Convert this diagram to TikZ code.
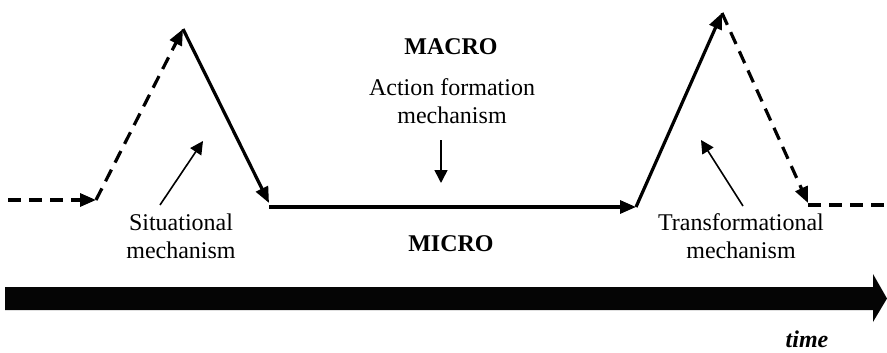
\documentclass[tikz,border=0pt]{standalone}
\usepackage{fontspec}
\setmainfont{Liberation Serif}
\usetikzlibrary{arrows.meta}
\tikzset{
  flow/.style={line width=3.2pt, -{Triangle[length=16pt,width=13pt]}},
  dflow/.style={flow, dash pattern=on 13pt off 8pt},
  thin/.style={line width=1.6pt, -{Triangle[length=13pt,width=13pt]}},
  lbl/.style={font=\fontsize{24}{28}\selectfont, align=center, inner sep=0pt},
  blbl/.style={lbl, font=\fontsize{24}{28}\selectfont\bfseries},
}
\begin{document}
\begin{tikzpicture}[x=1pt,y=-1pt]
\useasboundingbox (0,0) rectangle (887,353);
% corner coordinates
\coordinate (s0) at (8,200);
\coordinate (s1) at (96,200);
\coordinate (p1) at (183,29);
\coordinate (b1) at (269,203);
\coordinate (m0) at (269,207);
\coordinate (m1) at (636,207);
\coordinate (p2) at (722,13);
\coordinate (b2) at (808,203);
\coordinate (e0) at (808,205);
\coordinate (e1) at (887,205);
% flows
\draw[dflow] (s0) -- (s1);
\draw[dflow] (s1) -- (p1);
\draw[flow] (p1) -- (b1);
\draw[flow] (m0) -- (m1);
\draw[flow] (m1) -- (p2);
\draw[dflow] (p2) -- (b2);
\draw[line width=3.2pt, dash pattern=on 13pt off 8pt] (e0) -- (e1);
% labels
\node[blbl] (macro) at (451,47) {MACRO};
\node[lbl] (afm) at (452,101) {Action formation\\mechanism};
\node[blbl] (micro) at (451,244) {MICRO};
\node[lbl] (sit) at (181,236) {Situational\\mechanism};
\node[lbl] (tra) at (741,236) {Transformational\\mechanism};
% thin arrows
\coordinate (sa0) at (160,205);
\coordinate (sa1) at (203,141);
\draw[thin] (sa0) -- (sa1);
\coordinate (ta0) at (743,206);
\coordinate (ta1) at (701,140);
\draw[thin] (ta0) -- (ta1);
\coordinate (da0) at (441,140);
\coordinate (da1) at (441,183);
\draw[thin] (da0) -- (da1);
% time arrow
\fill[black!98] (5,287) -- (873,287) -- (873,274) -- (887,298.5) -- (873,322) -- (873,310) -- (5,310) -- cycle;
\node[lbl, anchor=base, font=\fontsize{24}{28}\selectfont\bfseries\itshape] (time) at (807,347) {time};
\end{tikzpicture}
\end{document}
